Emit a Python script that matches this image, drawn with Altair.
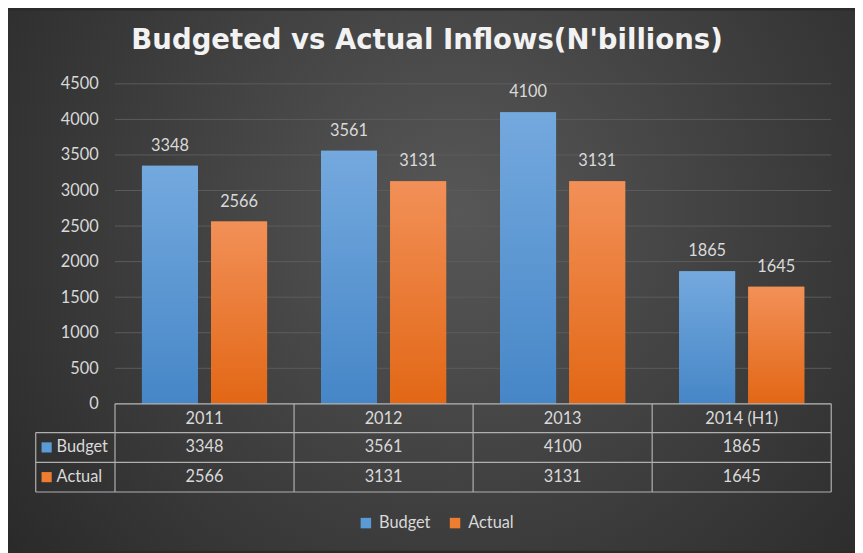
import altair as alt
import pandas as pd

# ---- data ----
years = ["2011", "2012", "2013", "2014 (H1)"]
series = ["Budget", "Actual"]
budget = [3348, 3561, 4100, 1865]
actual = [2566, 3131, 3131, 1645]
y_ticks = [0, 500, 1000, 1500, 2000, 2500, 3000, 3500, 4000, 4500]
title_text = "Budgeted vs Actual Inflows(N'billions)"

df = pd.DataFrame({
    "year": years * 2,
    "series": ["Budget"] * len(years) + ["Actual"] * len(years),
    "value": budget + actual,
})
ticks_df = pd.DataFrame({"value": y_ticks})
years_df = pd.DataFrame({"year": years})
one = pd.DataFrame({"k": [0]})

# ---- layout / style ----
W, H = 723, 323
PAD = {"left": 108, "top": 74, "right": 24, "bottom": 148}
FONT = "Lato"
TXT = "#d9d9d9"
LINE = "#b0b0b0"
COLORS = ["#5b9bd5", "#ed7d31"]
GRAD = {"Budget": ("#74a9de", "#4686c7"), "Actual": ("#f29058", "#e26715")}
ROW_Y = {"Budget": H + 44, "Actual": H + 74}

bg_fill = {
    "gradient": "radial",
    "x1": 0.53, "y1": 0.42, "r1": 0,
    "x2": 0.53, "y2": 0.42, "r2": 0.75,
    "stops": [
        {"offset": 0, "color": "#575757"},
        {"offset": 1, "color": "#242424"},
    ],
}

x_enc = alt.X("year:N", sort=years, axis=None,
              scale=alt.Scale(paddingInner=0, paddingOuter=0))
xoff = alt.XOffset("series:N", sort=series,
                   scale=alt.Scale(paddingInner=0.19, paddingOuter=0.39))
y_scale = alt.Scale(domain=[0, 4500], nice=False)
y_axis = alt.Axis(values=y_ticks, format="d", title=None, domain=False, ticks=False,
                  grid=False, labelPadding=17, labelFont=FONT,
                  labelFontSize=16.5, labelColor=TXT, zindex=1)
y_enc = alt.Y("value:Q", scale=y_scale, axis=y_axis, title=None)

base = alt.Chart(df)

background = alt.Chart(one).mark_rect(fill=bg_fill).encode(
    x=alt.value(-PAD["left"]), x2=alt.value(W + PAD["right"]),
    y=alt.value(-PAD["top"]), y2=alt.value(H + PAD["bottom"]))

grid = alt.Chart(ticks_df).mark_rule(color="#5c5c5c", strokeWidth=1).encode(
    y=y_enc, x=alt.value(0), x2=alt.value(W))

bars_solid = base.mark_bar().encode(
    x=x_enc, xOffset=xoff, y=y_enc,
    color=alt.Color("series:N", sort=series,
                    scale=alt.Scale(domain=series, range=COLORS),
                    legend=alt.Legend(orient="none", legendX=245, legendY=435,
                                      direction="horizontal", title=None,
                                      symbolType="square", symbolSize=112,
                                      symbolStrokeWidth=0, labelFont=FONT,
                                      labelFontSize=16.5, labelColor=TXT,
                                      labelOffset=5, columnPadding=16)))

grad_layers = []
for s in series:
    top, bottom = GRAD[s]
    grad_layers.append(
        base.transform_filter(alt.datum.series == s).mark_bar(
            fill=alt.LinearGradient(
                gradient="linear", x1=0, y1=0, x2=0, y2=1,
                stops=[alt.GradientStop(offset=0, color=top),
                       alt.GradientStop(offset=1, color=bottom)])
        ).encode(x=x_enc, xOffset=xoff, y=y_enc))

labels = base.mark_text(font=FONT, fontSize=16.5, color=TXT, baseline="bottom",
                        dy=-12).encode(
    x=x_enc, xOffset=xoff, y=y_enc, text=alt.Text("value:Q", format="d"))

# ---- data table under the plot ----
table_rules = [
    alt.Chart(one).mark_rule(color=LINE, strokeWidth=1.2).encode(
        x=alt.value(0), x2=alt.value(W), y=alt.value(H)),
]
for yy in (H + 29, H + 59, H + 89):
    table_rules.append(alt.Chart(one).mark_rule(color=LINE, strokeWidth=1.2).encode(
        x=alt.value(-80), x2=alt.value(W), y=alt.value(yy)))
table_rules.append(alt.Chart(years_df).mark_rule(color=LINE, strokeWidth=1.2).encode(
    x=alt.X("year:N", sort=years, bandPosition=0, axis=None),
    y=alt.value(H), y2=alt.value(H + 89)))
table_rules.append(alt.Chart(one).mark_rule(color=LINE, strokeWidth=1.2).encode(
    x=alt.value(W), y=alt.value(H), y2=alt.value(H + 89)))
table_rules.append(alt.Chart(one).mark_rule(color=LINE, strokeWidth=1.2).encode(
    x=alt.value(-80), y=alt.value(H + 29), y2=alt.value(H + 89)))

header = alt.Chart(years_df).mark_text(font=FONT, fontSize=16.5, color=TXT,
                                       baseline="middle").encode(
    x=x_enc, y=alt.value(H + 15), text="year:N")

table_text = []
for i, s in enumerate(series):
    table_text.append(
        base.transform_filter(alt.datum.series == s).mark_text(
            font=FONT, fontSize=16.5, color=TXT, baseline="middle").encode(
            x=x_enc, y=alt.value(ROW_Y[s]), text=alt.Text("value:Q", format="d")))
    row_df = pd.DataFrame({"series": [s]})
    table_text.append(
        alt.Chart(row_df).mark_text(font=FONT, fontSize=16.5, color=TXT,
                                    baseline="middle", align="left").encode(
            x=alt.value(-59), y=alt.value(ROW_Y[s]), text="series:N"))
    table_text.append(
        alt.Chart(row_df).mark_square(size=105, filled=True, opacity=1,
                                      color=COLORS[i]).encode(
            x=alt.value(-69), y=alt.value(ROW_Y[s])))

title_df = pd.DataFrame({"t": [title_text]})
title = alt.Chart(title_df).mark_text(
    font="DejaVu Sans", fontWeight="bold", fontSize=27.8, color="#f2f2f2",
    align="center", baseline="alphabetic").encode(
    text="t:N", x=alt.value(315), y=alt.value(-35))

chart = alt.layer(
    background, grid, bars_solid, *grad_layers, labels,
    *table_rules, header, *table_text, title
).properties(
    width=W, height=H,
    autosize=alt.AutoSizeParams(type="none"),
    padding=PAD,
    background="#2b2b2b",
).configure_view(stroke=None)

chart.save("out.html", embed_options={"renderer": "svg", "actions": False})
